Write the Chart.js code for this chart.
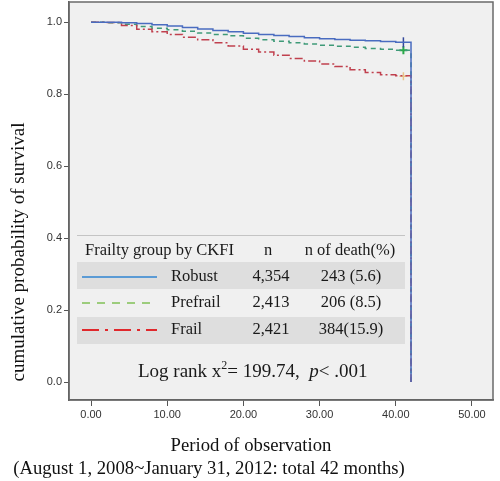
<!DOCTYPE html>
<html>
<head>
<meta charset="utf-8">
<script src="https://cdn.jsdelivr.net/npm/chart.js@4"></script>
<style>
  body { margin: 0; background: #fff; }
  #wrap { width: 500px; height: 481px; }
</style>
</head>
<body>
<div id="wrap"><canvas id="graficoSobrevida" width="500" height="481"></canvas></div>
<script>
// months of follow-up and survival estimates
const months = [0, 2, 4, 6, 8, 10, 12, 14, 16, 18, 20, 22, 24, 26, 28, 30, 32, 34, 36, 38, 40, 42];
const robust = [1.0, 1.0, 0.998, 0.996, 0.993, 0.989, 0.985, 0.981, 0.977, 0.973, 0.969, 0.966, 0.963, 0.960, 0.957, 0.954, 0.952, 0.950, 0.948, 0.946, 0.944, 0.0];
const prefrail = [1.0, 0.998, 0.994, 0.988, 0.983, 0.979, 0.975, 0.970, 0.966, 0.962, 0.955, 0.951, 0.947, 0.943, 0.939, 0.936, 0.933, 0.930, 0.927, 0.925, 0.922, 0.0];
const frail = [1.0, 0.999, 0.991, 0.980, 0.973, 0.966, 0.958, 0.951, 0.943, 0.934, 0.925, 0.917, 0.908, 0.899, 0.892, 0.884, 0.877, 0.868, 0.860, 0.854, 0.851, 0.0];

// censored marks
const censorMonth = [41];
const censorRobust = [0.944];
const censorPrefrail = [0.922];
const censorFrail = [0.850];

const xTicks = [0, 10, 20, 30, 40, 50];
const yTicks = [0, 0.2, 0.4, 0.6, 0.8, 1.0];

// table inside the plot
const groups = ['Robust', 'Prefrail', 'Frail'];
const groupN = ['4,354', '2,413', '2,421'];
const groupDeaths = ['243 (5.6)', '206 (8.5)', '384(15.9)'];

const pontos = (xs, ys) => xs.map((x, i) => ({ x: x, y: ys[i] }));

const serif = '"Liberation Serif", "Times New Roman", serif';

const fundo = {
  id: 'fundo',
  beforeDraw(chart) {
    const { ctx, chartArea: a } = chart;
    ctx.save();
    ctx.fillStyle = '#ffffff';
    ctx.fillRect(0, 0, chart.width, chart.height);
    ctx.fillStyle = '#f0f0f0';
    ctx.fillRect(a.left, a.top, a.right - a.left, a.bottom - a.top);
    ctx.restore();
  },
  afterDraw(chart) {
    const { ctx, chartArea: a } = chart;
    ctx.save();
    ctx.strokeStyle = '#6a6a6a';
    ctx.lineWidth = 1.5;
    ctx.strokeRect(a.left, a.top, a.right - a.left, a.bottom - a.top);

    ctx.fillStyle = '#111';
    ctx.textAlign = 'center';
    ctx.textBaseline = 'middle';
    ctx.font = '18.7px ' + serif;
    ctx.fillText('Period of observation', 251, 446);
    ctx.fillText('(August 1, 2008~January 31, 2012: total 42 months)', 209, 469);

    ctx.translate(19, 252);
    ctx.rotate(-Math.PI / 2);
    ctx.font = '19px ' + serif;
    ctx.fillText('cumulative probability of survival', 0, 0);
    ctx.restore();
  }
};

const tabela = {
  id: 'tabela',
  afterDatasetsDraw(chart) {
    const ctx = chart.ctx;
    const left = 77, right = 405;
    const rowY = [277, 303, 330];
    const samples = [
      { color: '#5b9bd5', dash: [] },
      { color: '#9ccc7c', dash: [8, 7] },
      { color: '#e0282c', dash: [17, 6, 3, 6] }
    ];
    ctx.save();
    ctx.strokeStyle = '#c4c4c4';
    ctx.lineWidth = 1;
    ctx.beginPath();
    ctx.moveTo(left, 235.5);
    ctx.lineTo(right, 235.5);
    ctx.stroke();

    ctx.fillStyle = '#dedede';
    ctx.fillRect(left, 262, right - left, 27);
    ctx.fillRect(left, 317, right - left, 27);

    ctx.fillStyle = '#1a1a1a';
    ctx.font = '16.5px ' + serif;
    ctx.textBaseline = 'middle';
    ctx.textAlign = 'left';
    ctx.fillText('Frailty group by CKFI', 85, 251);
    ctx.textAlign = 'center';
    ctx.fillText('n', 268, 251);
    ctx.fillText('n of death(%)', 350, 251);

    groups.forEach((g, i) => {
      const y = rowY[i];
      ctx.save();
      ctx.strokeStyle = samples[i].color;
      ctx.lineWidth = 2;
      ctx.setLineDash(samples[i].dash);
      ctx.beginPath();
      ctx.moveTo(82, y);
      ctx.lineTo(157, y);
      ctx.stroke();
      ctx.restore();
      ctx.textAlign = 'left';
      ctx.fillText(g, 171, y);
      ctx.textAlign = 'center';
      ctx.fillText(groupN[i], 271, y);
      ctx.fillText(groupDeaths[i], 351, y);
    });

    // Log rank line, written in pieces for the superscript and italic p
    ctx.textAlign = 'left';
    const y = 372;
    let x = 138;
    const parte = (txt, font, dy) => {
      ctx.font = font;
      ctx.fillText(txt, x, y + (dy || 0));
      x += ctx.measureText(txt).width;
    };
    parte('Log rank x', '19px ' + serif);
    parte('2', '12px ' + serif, -6);
    parte('= 199.74,  ', '19px ' + serif);
    parte('p', 'italic 19px ' + serif);
    parte('< .001', '19px ' + serif);
    ctx.restore();
  }
};

new Chart(document.getElementById('graficoSobrevida'), {
  type: 'line',
  data: {
    datasets: [{
      label: 'Robust',
      data: pontos(months, robust),
      borderColor: '#4a6cc0',
      borderWidth: 1.5,
      stepped: true,
      pointRadius: 0,
      fill: false
    },
    {
      label: 'Frail',
      data: pontos(months, frail),
      borderColor: '#c0404e',
      borderWidth: 1.5,
      borderDash: [8, 3, 2, 3],
      stepped: true,
      pointRadius: 0,
      fill: false
    },
    {
      label: 'Prefrail',
      data: pontos(months, prefrail),
      borderColor: '#3f9a78',
      borderWidth: 1.5,
      borderDash: [5, 4],
      stepped: true,
      pointRadius: 0,
      fill: false
    },
    {
      label: 'Robust-censored',
      type: 'scatter',
      data: pontos(censorMonth, censorRobust),
      pointStyle: 'line',
      rotation: 90,
      radius: 5,
      borderColor: '#34489a',
      borderWidth: 1.5
    },
    {
      label: 'Prefrail-censored',
      type: 'scatter',
      data: pontos(censorMonth, censorPrefrail),
      pointStyle: 'cross',
      radius: 4,
      borderColor: '#2aa84a',
      borderWidth: 2
    },
    {
      label: 'Frail-censored',
      type: 'scatter',
      data: pontos(censorMonth, censorFrail),
      pointStyle: 'cross',
      radius: 4,
      borderColor: '#e8c48a',
      borderWidth: 1.5
    }
    ]
  },
  options: {
    responsive: false,
    animation: false,
    layout: { autoPadding: false, padding: { top: 2, right: 7, left: 0, bottom: 0 } },
    plugins: {
      legend: { display: false },
      tooltip: { enabled: false }
    },
    scales: {
      x: {
        type: 'linear',
        min: -2.89,
        max: 52.76,
        afterBuildTicks: (scale) => { scale.ticks = xTicks.map(v => ({ value: v })) },
        afterFit: (scale) => {
          scale.height = 81
          scale.paddingLeft = 0
          scale.paddingRight = 0
        },
        grid: { drawOnChartArea: false, tickLength: 6, color: '#555' },
        border: { color: '#555', width: 1.5 },
        ticks: {
          padding: 2,
          color: '#333',
          font: { family: '"Liberation Sans", Arial, sans-serif', size: 11 },
          callback: (v) => Number(v).toFixed(2),
          maxRotation: 0
        }
      },
      y: {
        min: -0.05,
        max: 1.056,
        afterBuildTicks: (scale) => { scale.ticks = yTicks.map(v => ({ value: v })) },
        afterFit: (scale) => {
          scale.width = 69
          scale.paddingTop = 0
          scale.paddingBottom = 0
        },
        grid: { drawOnChartArea: false, tickLength: 5, color: '#555' },
        border: { color: '#555', width: 1.5 },
        ticks: {
          padding: 2,
          color: '#333',
          font: { family: '"Liberation Sans", Arial, sans-serif', size: 11 },
          callback: (v) => Number(v).toFixed(1)
        }
      }
    }
  },
  plugins: [fundo, tabela]
});
</script>
</body>
</html>
